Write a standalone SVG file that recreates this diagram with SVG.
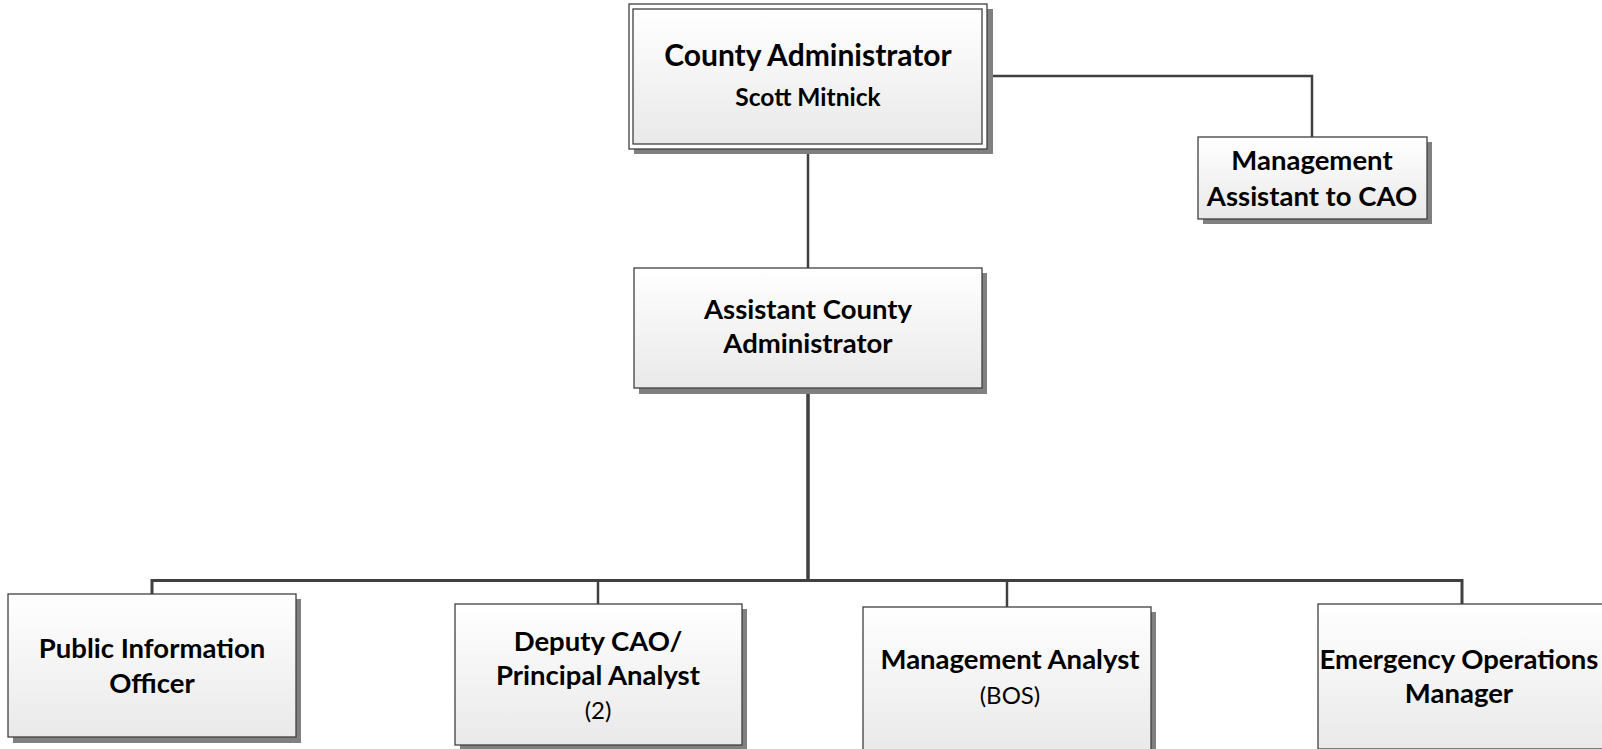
<svg xmlns="http://www.w3.org/2000/svg" width="1602" height="749" viewBox="0 0 1602 749">
<defs>
<linearGradient id="g" x1="0" y1="0" x2="0" y2="1">
<stop offset="0" stop-color="#ffffff"/>
<stop offset="1" stop-color="#e9e9e9"/>
</linearGradient>
<style>
.sh{fill:#808080}
.bx{fill:url(#g);stroke:#404040;stroke-width:1.3}
.wb{fill:#ffffff;stroke:#404040;stroke-width:1.3}
.t{font-family:Lato,"Liberation Sans",sans-serif;font-weight:bold;font-size:27.5px;fill:#000;text-anchor:middle}
.r{font-family:Lato,"Liberation Sans",sans-serif;font-weight:normal;font-size:24px;fill:#000;text-anchor:middle}
.c{fill:none;stroke:#404040;stroke-width:2.5}
</style>
</defs>
<rect width="1602" height="749" fill="#ffffff"/>
<g id="connectors">
<path class="c" d="M987 76 H1312 V137"/>
<path class="c" d="M808 149 V268"/>
<path class="c" d="M808 388 V580.5" style="stroke-width:3.5"/>
<path class="c" d="M152 594 V580.5 H1462 V604" style="stroke-width:3"/>
<path class="c" d="M598 580.5 V604"/>
<path class="c" d="M1007 580.5 V607"/>
</g>
<g id="county-administrator">
<rect class="sh" x="634" y="9" width="359" height="145"/>
<rect class="wb" x="629" y="4" width="358" height="145"/>
<rect class="bx" x="633" y="9" width="349" height="135"/>
<text class="t" x="808" y="66" style="font-size:30px">County Administrator</text>
<text class="t" x="808" y="106" style="font-size:24.5px">Scott Mitnick</text>
</g>
<g id="management-assistant">
<rect class="sh" x="1203" y="142" width="229" height="82"/>
<rect class="bx" x="1198" y="137" width="229" height="82"/>
<text class="t" x="1312" y="170">Management</text>
<text class="t" x="1312" y="206">Assistant to CAO</text>
</g>
<g id="assistant-county-administrator">
<rect class="sh" x="639" y="273" width="348" height="121"/>
<rect class="bx" x="634" y="268" width="348" height="120"/>
<text class="t" x="808" y="319">Assistant County</text>
<text class="t" x="808" y="353">Administrator</text>
</g>
<g id="public-information-officer">
<rect class="sh" x="13" y="599" width="288" height="144"/>
<rect class="bx" x="8" y="594" width="288" height="143"/>
<text class="t" x="152" y="658">Public Information</text>
<text class="t" x="152" y="693">Officer</text>
</g>
<g id="deputy-cao">
<rect class="sh" x="460" y="609" width="287" height="145"/>
<rect class="bx" x="455" y="604" width="287" height="141"/>
<text class="t" x="598" y="651">Deputy CAO/</text>
<text class="t" x="598" y="685">Principal Analyst</text>
<text class="r" x="598" y="719">(2)</text>
</g>
<g id="management-analyst">
<rect class="sh" x="868" y="612" width="288" height="145"/>
<rect class="bx" x="863" y="607" width="288" height="145"/>
<text class="t" x="1010" y="669">Management Analyst</text>
<text class="r" x="1010" y="704">(BOS)</text>
</g>
<g id="emergency-operations-manager">
<rect class="sh" x="1323" y="609" width="290" height="145"/>
<rect class="bx" x="1318" y="604" width="290" height="145"/>
<text class="t" x="1459" y="669">Emergency Operations</text>
<text class="t" x="1459" y="703">Manager</text>
</g>
</svg>
